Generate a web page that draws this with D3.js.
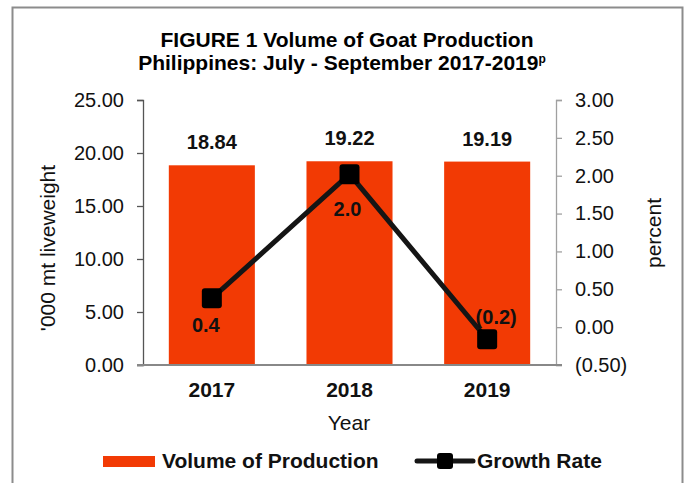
<!DOCTYPE html>
<html>
<head>
<meta charset="utf-8">
<script src="https://cdn.jsdelivr.net/npm/d3@7"></script>
<style>
  body { margin: 0; background: #fff; }
  svg { display: block; font-family: Arial, "Liberation Sans", sans-serif; }
</style>
</head>
<body>
<svg id="chart" width="686" height="483"></svg>
<script>
const years = ["2017", "2018", "2019"];
const volume = [18.84, 19.22, 19.19];
const growth = [0.38, 2.02, -0.16];
const growthLabels = ["0.4", "2.0", "(0.2)"];
const leftTicks = [0, 5, 10, 15, 20, 25];
const rightTicks = [-0.5, 0, 0.5, 1, 1.5, 2, 2.5, 3];

const BAR_FILL = "#f23a04";
const LINE_STROKE = "#151515";
const FONT = "Arial, 'Liberation Sans', sans-serif";

const svg = d3.select("#chart");
const plotLeft = 143, plotRight = 556, plotTop = 100, plotBottom = 365;

// frame
svg.append("rect")
    .attr("x", 12.5).attr("y", 7.5)
    .attr("width", 670).attr("height", 520)
    .attr("fill", "none")
    .attr("stroke", "#8c8c8c")
    .attr("stroke-width", 2);

// title
svg.append("text")
    .attr("x", 347).attr("y", 47)
    .attr("text-anchor", "middle")
    .attr("font-weight", "bold")
    .attr("font-size", 21)
    .text("FIGURE 1 Volume of Goat Production");
const t2 = svg.append("text")
    .attr("x", 342).attr("y", 70)
    .attr("text-anchor", "middle")
    .attr("font-weight", "bold")
    .attr("font-size", 21);
t2.append("tspan").text("Philippines: July - September 2017-2019");
t2.append("tspan").attr("font-size", 12).attr("dy", -7).text("p");

const x = d3.scaleBand()
    .domain(years)
    .range([plotLeft, plotRight])
    .paddingInner(0.375)
    .paddingOuter(0.1875);

const yL = d3.scaleLinear().domain([0, 25]).range([plotBottom, plotTop]);
const yR = d3.scaleLinear().domain([-0.5, 3]).range([plotBottom, plotTop]);

const fmtR = v => v < 0 ? "(" + d3.format(".2f")(-v) + ")" : d3.format(".2f")(v);
const cx = i => x(years[i]) + x.bandwidth() / 2;

// bars
svg.append("g").selectAll("rect")
    .data(volume)
    .join("rect")
    .attr("x", (d, i) => x(years[i]))
    .attr("y", d => yL(d))
    .attr("width", x.bandwidth())
    .attr("height", d => yL(0) - yL(d))
    .attr("fill", BAR_FILL);

// left axis
const gL = svg.append("g")
    .attr("transform", `translate(${plotLeft},0)`)
    .call(d3.axisLeft(yL).tickValues(leftTicks).tickFormat(d3.format(".2f")).tickSize(6).tickPadding(13));
gL.select(".domain").attr("stroke", "#555").attr("stroke-width", 1.3);
gL.selectAll(".tick line").attr("stroke", "#555").attr("stroke-width", 1.3);
gL.selectAll("text").attr("font-size", 20).attr("fill", "#111").attr("font-family", FONT);

// right axis
const gR = svg.append("g")
    .attr("transform", `translate(${plotRight},0)`)
    .call(d3.axisRight(yR).tickValues(rightTicks).tickFormat(fmtR).tickSize(6).tickPadding(13));
gR.select(".domain").attr("stroke", "#a0a0a0").attr("stroke-width", 1.3);
gR.selectAll(".tick line").attr("stroke", "#a0a0a0").attr("stroke-width", 1.3);
gR.selectAll("text").attr("font-size", 20).attr("fill", "#111").attr("font-family", FONT);

// bottom axis
const gB = svg.append("g")
    .attr("transform", `translate(0,${plotBottom})`)
    .call(d3.axisBottom(x).tickSize(0));
gB.select(".domain").attr("stroke", "#888").attr("stroke-width", 2)
    .attr("d", `M${plotLeft - 6},0H${plotRight + 6}`);
gB.selectAll("text")
    .attr("font-size", 21).attr("font-weight", "bold").attr("fill", "#111")
    .attr("font-family", FONT)
    .attr("dy", null).attr("y", 32);

// bar value labels
svg.append("g").selectAll("text")
    .data(volume)
    .join("text")
    .attr("x", (d, i) => cx(i))
    .attr("y", d => yL(d) - 16)
    .attr("text-anchor", "middle")
    .attr("font-weight", "bold")
    .attr("font-size", 20)
    .attr("fill", "#111")
    .text(d => d3.format(".2f")(d));

// growth line
const line = d3.line()
    .x((d, i) => cx(i))
    .y(d => yR(d));
svg.append("path")
    .datum(growth)
    .attr("d", line)
    .attr("fill", "none")
    .attr("stroke", LINE_STROKE)
    .attr("stroke-width", 5)
    .attr("stroke-linejoin", "round");
svg.append("g").selectAll("rect")
    .data(growth)
    .join("rect")
    .attr("x", (d, i) => cx(i) - 10)
    .attr("y", d => yR(d) - 10)
    .attr("width", 20).attr("height", 20)
    .attr("rx", 3)
    .attr("fill", "#000");

// growth labels
const labelDx = [-6, -2, 9];
const labelDy = [34, 42, -15];
svg.append("g").selectAll("text")
    .data(growth)
    .join("text")
    .attr("x", (d, i) => cx(i) + labelDx[i])
    .attr("y", (d, i) => yR(d) + labelDy[i])
    .attr("text-anchor", "middle")
    .attr("font-weight", "bold")
    .attr("font-size", 20)
    .attr("fill", "#111")
    .text((d, i) => growthLabels[i]);

// axis titles
svg.append("text")
    .attr("transform", "translate(55,248) rotate(-90)")
    .attr("text-anchor", "middle")
    .attr("font-size", 21)
    .attr("fill", "#111")
    .text("'000 mt liveweight");
svg.append("text")
    .attr("transform", "translate(661,233) rotate(-90)")
    .attr("text-anchor", "middle")
    .attr("font-size", 21)
    .attr("fill", "#111")
    .text("percent");
svg.append("text")
    .attr("x", 349).attr("y", 430)
    .attr("text-anchor", "middle")
    .attr("font-size", 21)
    .attr("fill", "#111")
    .text("Year");

// legend
const lg = svg.append("g");
lg.append("rect").attr("x", 103).attr("y", 456).attr("width", 52).attr("height", 11).attr("fill", BAR_FILL);
lg.append("text").attr("x", 162).attr("y", 468)
    .attr("font-weight", "bold").attr("font-size", 21).attr("fill", "#111")
    .text("Volume of Production");
lg.append("line").attr("x1", 417).attr("x2", 473).attr("y1", 461).attr("y2", 461)
    .attr("stroke", LINE_STROKE).attr("stroke-width", 5).attr("stroke-linecap", "round");
lg.append("rect").attr("x", 437).attr("y", 453).attr("width", 16).attr("height", 16).attr("rx", 3).attr("fill", "#000");
lg.append("text").attr("x", 477).attr("y", 468)
    .attr("font-weight", "bold").attr("font-size", 21).attr("fill", "#111")
    .text("Growth Rate");
</script>
</body>
</html>
